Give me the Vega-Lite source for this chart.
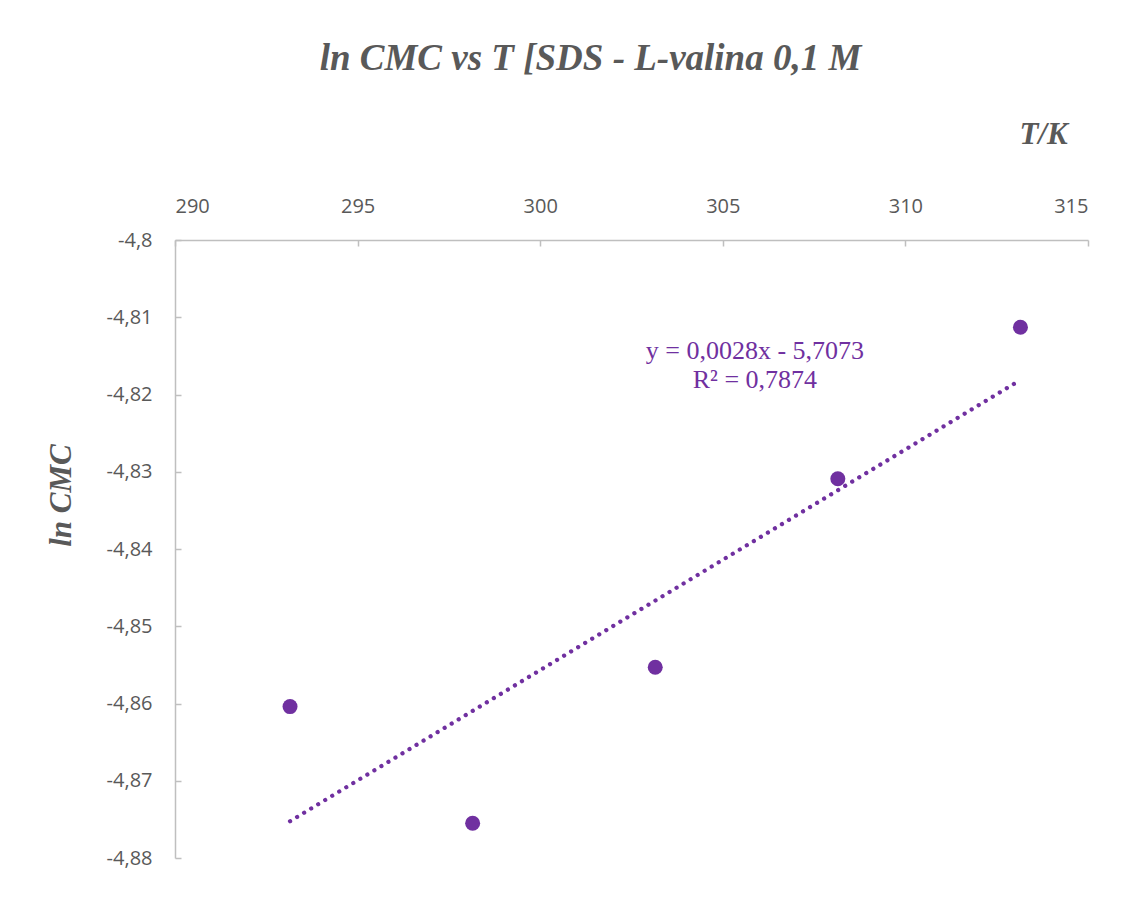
{
  "$schema": "https://vega.github.io/schema/vega-lite/v6.json",
  "autosize": "none",
  "width": 913,
  "height": 618,
  "padding": {"left": 175, "top": 240, "right": 43, "bottom": 40},
  "background": "white",
  "title": {
    "text": "ln CMC vs T [SDS - L-valina 0,1 M",
    "font": "Liberation Serif",
    "fontSize": 37,
    "fontStyle": "italic",
    "fontWeight": "bold",
    "color": "#595959",
    "anchor": "middle",
    "frame": "group",
    "dx": -41,
    "offset": 40
  },
  "config": {
    "view": {"stroke": null},
    "axis": {
      "grid": false,
      "domainColor": "#BFBFBF",
      "domainWidth": 1.5,
      "tickColor": "#BFBFBF",
      "tickWidth": 1.5,
      "labelFont": "Open Sans",
      "labelFontSize": 20,
      "labelColor": "#595959",
      "titleFont": "Liberation Serif",
      "titleFontSize": 31,
      "titleFontStyle": "italic",
      "titleFontWeight": "bold",
      "titleColor": "#595959"
    }
  },
  "data": {
    "values": [
      {"T": 293.15, "lnCMC": -4.8604},
      {"T": 298.15, "lnCMC": -4.8755},
      {"T": 303.15, "lnCMC": -4.8553},
      {"T": 308.15, "lnCMC": -4.8309},
      {"T": 313.15, "lnCMC": -4.8113}
    ]
  },
  "encoding": {
    "x": {
      "field": "T",
      "type": "quantitative",
      "scale": {"domain": [290, 315], "nice": false, "zero": false},
      "axis": {
        "orient": "top",
        "values": [290, 295, 300, 305, 310, 315],
        "tickSize": -6,
        "labelPadding": 30,
        "labelExpr": "format(datum.value, 'd')",
        "title": "T/K",
        "titleAnchor": null,
        "titleAlign": "center",
        "titleBaseline": "alphabetic",
        "titleX": 868,
        "titleY": -97
      }
    },
    "y": {
      "field": "lnCMC",
      "type": "quantitative",
      "scale": {"domain": [-4.88, -4.8], "nice": false, "zero": false},
      "axis": {
        "orient": "left",
        "values": [-4.88, -4.87, -4.86, -4.85, -4.84, -4.83, -4.82, -4.81, -4.8],
        "tickSize": -6,
        "labelPadding": 29,
        "labelExpr": "(datum.value < 0 ? '-' : '') + replace(format(abs(datum.value), '.2~f'), '.', ',')",
        "title": "ln CMC",
        "titleAngle": -90,
        "titleAlign": "center",
        "titleBaseline": "alphabetic",
        "titleX": -105,
        "titleY": 255
      }
    }
  },
  "layer": [
    {
      "transform": [{"regression": "lnCMC", "on": "T"}],
      "mark": {
        "type": "line",
        "color": "#7030A0",
        "strokeWidth": 4.3,
        "strokeCap": "round",
        "strokeDash": [0.01, 8.2]
      }
    },
    {
      "mark": {"type": "circle", "size": 225, "color": "#7030A0", "opacity": 1}
    },
    {
      "data": {
        "values": [
          {"T": 305.88, "lnCMC": -4.8154, "label": "y = 0,0028x - 5,7073"},
          {"T": 305.88, "lnCMC": -4.8192, "label": "R² = 0,7874"}
        ]
      },
      "mark": {
        "type": "text",
        "font": "Liberation Serif",
        "fontSize": 26,
        "color": "#7030A0",
        "align": "center",
        "baseline": "alphabetic"
      },
      "encoding": {"text": {"field": "label"}}
    }
  ]
}
